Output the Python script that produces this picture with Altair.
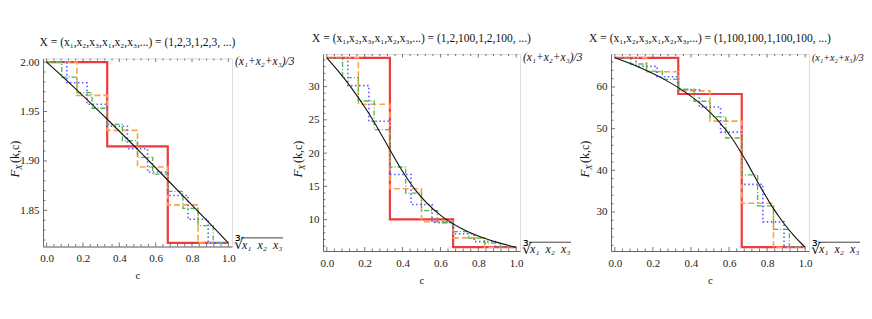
import altair as alt
import numpy as np
import pandas as pd

FONT = "Liberation Serif"

X_TICKS = [0.0, 0.2, 0.4, 0.6, 0.8, 1.0]
X_MINOR_STEP = 0.04

# ---------------- panel 1 : X = (1,2,3,1,2,3,...)
P1_TITLE = "X = (x\u2081,x\u2082,x\u2083,x\u2081,x\u2082,x\u2083,...) = (1,2,3,1,2,3, ...)"
P1_A = 2.0
P1_G = 1.81712
P1_K3 = [2.0, 1.91485, 1.81712]
P1_K6 = [2.0, 1.96638, 1.93098, 1.89394, 1.85560, 1.81712]
P1_K9 = [2.0, 1.97906, 1.95743, 1.93517, 1.91228, 1.88888, 1.86507, 1.84108, 1.81712]
P1_K12 = [2.0, 1.98479, 1.96923, 1.95331, 1.93707, 1.92052, 1.90368, 1.88660,
          1.86933, 1.85194, 1.83451, 1.81712]
P1_CURVE_C = [0.0, 0.0561, 0.1628, 0.3598, 0.5211, 0.6389, 0.8357, 0.9431, 1.0]
P1_CURVE_V = [2.0, 1.9906, 1.9724, 1.9374, 1.9079, 1.8858, 1.8485, 1.8280, 1.81712]
P1_YTICKS = [1.85, 1.90, 1.95, 2.00]
P1_YMINOR = 0.01

# ---------------- panel 2 : X = (1,2,100,...)
P2_TITLE = "X = (x\u2081,x\u2082,x\u2083,x\u2081,x\u2082,x\u2083,...) = (1,2,100,1,2,100, ...)"
P2_A = 34.3333
P2_G = 5.84804
P2_K3 = [34.333, 10.033, 5.848]
P2_K6 = [34.333, 27.341, 14.629, 9.693, 7.258, 5.848]
P2_K9 = [34.333, 30.154, 24.792, 16.788, 12.261, 9.581, 7.866, 6.693, 5.848]
P2_K12 = [34.333, 31.349, 27.836, 23.532, 17.909, 13.994, 11.358, 9.526,
          8.203, 7.214, 6.451, 5.848]
P2_CURVE_C = [0.0, 0.0575, 0.1309, 0.2146, 0.2786, 0.3333, 0.3889, 0.4683,
              0.6046, 0.7189, 0.8206, 0.9135, 0.9758, 1.0]
P2_CURVE_V = [34.333, 32.444, 29.774, 26.282, 23.261, 20.503, 17.771, 14.441,
              10.555, 8.537, 7.300, 6.460, 6.005, 5.848]
P2_YTICKS = [10, 15, 20, 25, 30]
P2_YMINOR = 1.0

# ---------------- panel 3 : X = (1,100,100,...)
P3_TITLE = "X = (x\u2081,x\u2082,x\u2083,x\u2081,x\u2082,x\u2083,...) = (1,100,100,1,100,100, ...)"
P3_A = 67.0
P3_G = 21.5443
P3_K3 = [67.0, 58.310, 21.544]
P3_K6 = [67.0, 63.666, 59.061, 51.808, 32.085, 21.544]
P3_K9 = [67.0, 64.936, 62.443, 59.323, 55.197, 49.152, 36.624, 27.633, 21.544]
P3_K12 = [67.0, 65.506, 63.797, 61.812, 59.454, 56.570, 52.877, 47.747,
          38.904, 31.487, 25.820, 21.544]
P3_CURVE_C = [0.0, 0.0609, 0.1548, 0.2520, 0.3676, 0.4510, 0.5462, 0.6173,
              0.6905, 0.7647, 0.8267, 0.8856, 0.9431, 0.9838, 1.0]
P3_CURVE_V = [67.0, 65.965, 64.176, 62.001, 58.825, 55.947, 51.731, 47.578,
              42.137, 36.023, 31.293, 27.416, 24.209, 22.257, 21.544]
P3_YTICKS = [30, 40, 50, 60]
P3_YMINOR = 2.0

LABEL_TOP = "(x\u2081+x\u2082+x\u2083)/3"
LABEL_BOTTOM = "x\u2081\u2002x\u2082\u2002x\u2083"


def step_frame(vals):
    k = len(vals)
    return pd.DataFrame({"c": [i / k for i in range(k)] + [1.0],
                         "v": list(vals) + [vals[-1]]})


def minor_ticks(lo, hi, step, majors):
    n0 = int(np.ceil(lo / step - 1e-9))
    n1 = int(np.floor(hi / step + 1e-9))
    vals = [round(n * step, 6) for n in range(n0, n1 + 1)]
    return [v for v in vals if all(abs(v - m) > step / 10 for m in majors)]


def panel(title, A, G, ks, curve_c, curve_v, yticks, ystep, yfmt, W, H, ytdx,
          top_fs=11.5):
    pad = 0.02 * (A - G)
    ylo, yhi = G - pad, A + pad
    xscale = alt.Scale(domain=[-0.02, 1.02], nice=False, zero=False)
    yscale = alt.Scale(domain=[ylo, yhi], nice=False, zero=False)
    xaxis = alt.Axis(values=X_TICKS, format=".1f", ticks=False, domain=True,
                     domainColor="#666", grid=False, labelFont=FONT,
                     labelFontSize=11, labelColor="#222", labelPadding=6,
                     labelFlush=False, labelOverlap=False, title="c",
                     titleFont=FONT, titleFontSize=11, titleFontWeight="normal",
                     titleColor="#222", titlePadding=6)
    yaxis = alt.Axis(values=yticks, format=yfmt, ticks=False, domain=True,
                     domainColor="#666", grid=False, labelFont=FONT,
                     labelFontSize=11, labelColor="#222", labelPadding=4,
                     labelFlush=False, labelOverlap=False, title=None)

    def X(f):
        return alt.X(f, type="quantitative", scale=xscale, axis=xaxis)

    def Y(f):
        return alt.Y(f, type="quantitative", scale=yscale, axis=yaxis)

    layers = []
    styles = [(ks[0], "#ee3b3b", 2.2, None),
              (ks[1], "#ffa04c", 1.6, [6, 3]),
              (ks[2], "#5c5cff", 1.6, [1.5, 2.5]),
              (ks[3], "#4cb84c", 1.3, [5, 2, 1, 2])]
    for vals, col, w, dash in styles:
        kw = dict(color=col, strokeWidth=w, interpolate="step-after")
        if dash:
            kw["strokeDash"] = dash
        layers.append(alt.Chart(step_frame(vals)).mark_line(**kw)
                      .encode(x=X("c"), y=Y("v")))
    layers.append(alt.Chart(pd.DataFrame({"c": curve_c, "v": curve_v}))
                  .mark_line(color="#111", strokeWidth=1.1, interpolate="monotone")
                  .encode(x=X("c"), y=Y("v")))

    # inward frame ticks
    xmin = minor_ticks(0.0, 1.0, X_MINOR_STEP, X_TICKS)
    ymin = minor_ticks(ylo, yhi, ystep, yticks)
    tc = "#555"
    for vals, ln in [(X_TICKS, 4), (xmin, 2.5)]:
        df = pd.DataFrame({"t": vals})
        layers.append(alt.Chart(df).mark_rule(color=tc, strokeWidth=0.8)
                      .encode(x=X("t"), y=alt.value(H), y2=alt.value(H - ln)))
        layers.append(alt.Chart(df).mark_rule(color=tc, strokeWidth=0.8)
                      .encode(x=X("t"), y=alt.value(0), y2=alt.value(ln - 0.5)))
    for vals, ln in [(yticks, 4), (ymin, 2.5)]:
        df = pd.DataFrame({"t": vals})
        layers.append(alt.Chart(df).mark_rule(color=tc, strokeWidth=0.8)
                      .encode(y=Y("t"), x=alt.value(0), x2=alt.value(ln)))

    one = pd.DataFrame({"a": [0]})
    # title
    layers.append(alt.Chart(one).mark_text(text=title, font=FONT, fontSize=11.5,
                                           color="#111", align="center",
                                           baseline="middle")
                  .encode(x=alt.value(W / 2), y=alt.value(-15.5)))
    # y title  F_X(k,c)
    y0 = H / 2 + 25
    layers.append(alt.Chart(one).mark_text(text="F", font=FONT, fontSize=13,
                                           fontStyle="italic", angle=270,
                                           align="left", baseline="alphabetic",
                                           color="#111")
                  .encode(x=alt.value(ytdx), y=alt.value(y0)))
    layers.append(alt.Chart(one).mark_text(text="X", font=FONT, fontSize=9,
                                           fontStyle="italic", angle=270,
                                           align="left", baseline="alphabetic",
                                           color="#111")
                  .encode(x=alt.value(ytdx + 3.5), y=alt.value(y0 - 7.5)))
    layers.append(alt.Chart(one).mark_text(text="(k,c)", font=FONT, fontSize=12,
                                           angle=270, align="left",
                                           baseline="alphabetic", color="#111")
                  .encode(x=alt.value(ytdx), y=alt.value(y0 - 14.5)))
    # right side labels
    layers.append(alt.Chart(one).mark_text(text=LABEL_TOP, font=FONT, fontSize=top_fs,
                                           fontStyle="italic", align="left",
                                           baseline="middle", color="#111")
                  .encode(x=alt.value(W + 3),
                          y=alt.Y(datum=A, type="quantitative", scale=yscale, axis=yaxis)))
    layers.append(alt.Chart(one).mark_text(text="\u221b", font=FONT, fontSize=15,
                                           align="left", baseline="middle",
                                           color="#111", dy=1.5)
                  .encode(x=alt.value(W + 2),
                          y=alt.Y(datum=G, type="quantitative", scale=yscale, axis=yaxis)))
    layers.append(alt.Chart(one).mark_text(text=LABEL_BOTTOM, font=FONT, fontSize=12,
                                           fontStyle="italic", align="left",
                                           baseline="middle", color="#111", dy=2)
                  .encode(x=alt.value(W + 10),
                          y=alt.Y(datum=G, type="quantitative", scale=yscale, axis=yaxis)))
    layers.append(alt.Chart(one).mark_rule(color="#111", strokeWidth=0.8, yOffset=-5)
                  .encode(x=alt.value(W + 9), x2=alt.value(W + 51),
                          y=alt.Y(datum=G, type="quantitative", scale=yscale, axis=yaxis)))

    return alt.layer(*layers).properties(width=W, height=H)


p1 = panel(P1_TITLE, P1_A, P1_G, [P1_K3, P1_K6, P1_K9, P1_K12], P1_CURVE_C,
           P1_CURVE_V, P1_YTICKS, P1_YMINOR, ".2f", 189, 188, -24.5)
p2 = panel(P2_TITLE, P2_A, P2_G, [P2_K3, P2_K6, P2_K9, P2_K12], P2_CURVE_C,
           P2_CURVE_V, P2_YTICKS, P2_YMINOR, "d", 197, 197, -21.5)
p3 = panel(P3_TITLE, P3_A, P3_G, [P3_K3, P3_K6, P3_K9, P3_K12], P3_CURVE_C,
           P3_CURVE_V, P3_YTICKS, P3_YMINOR, "d", 198, 197, -22.5, top_fs=10)

chart = alt.hconcat(p1, p2, p3, spacing=91, bounds="flush", center=True).add_params(
    alt.param(name="width", value=821),
    alt.param(name="height", value=257),
).properties(
    autosize=alt.AutoSizeParams(type="none"),
    padding={"left": 35, "top": 46, "right": 0, "bottom": 0},
).configure_view(stroke="#9a9a9a", strokeWidth=1).configure(background="white")

chart.save("out.html", embed_options={"renderer": "svg", "actions": False})
